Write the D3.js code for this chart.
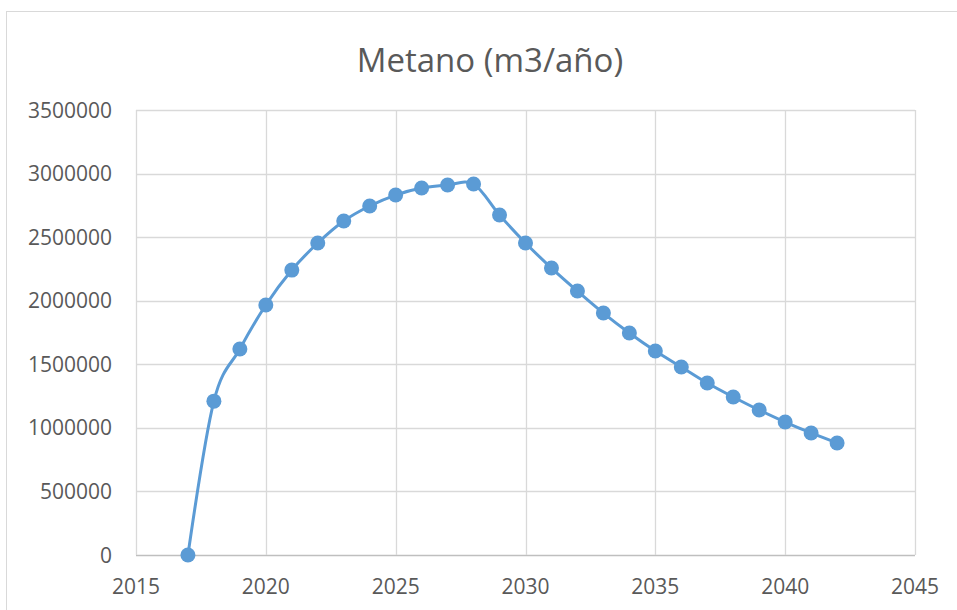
<!DOCTYPE html>
<html><head><meta charset="utf-8">
<script src="https://cdn.jsdelivr.net/npm/d3@7"></script>
<style>body{margin:0;background:#fff}svg{display:block}text{font-family:"Open Sans",sans-serif;fill:#595959}</style>
</head><body><svg id="c" width="957" height="610"></svg>
<script>
const title = "Metano (m3/año)";
const years = [2017,2018,2019,2020,2021,2022,2023,2024,2025,2026,2027,2028,2029,2030,2031,2032,2033,2034,2035,2036,2037,2038,2039,2040,2041,2042];
const values = [0,1210000,1620000,1966000,2241000,2454000,2627000,2745000,2831000,2886000,2910000,2918000,2674000,2454000,2257000,2076000,1903000,1746000,1604000,1479000,1353000,1243000,1140000,1046000,960000,881000];
const xTicks = [2015,2020,2025,2030,2035,2040,2045];
const yTicks = [0,500000,1000000,1500000,2000000,2500000,3000000,3500000];

const svg = d3.select("#c");
const L=136,R=915,T=110,B=555;
svg.append("rect").attr("x",6.5).attr("y",11.5).attr("width",1000).attr("height",1000).attr("fill","none").attr("stroke","#d9d9d9");
const x = d3.scaleLinear().domain([2015,2045]).range([L,R]);
const y = d3.scaleLinear().domain([0,3500000]).range([B,T]);
const g = svg.append("g");
g.selectAll(".hg").data(yTicks).join("line").attr("x1",L).attr("x2",R).attr("y1",d=>Math.round(y(d))+0.5).attr("y2",d=>Math.round(y(d))+0.5).attr("stroke",d=>d===0?"#bfbfbf":"#d9d9d9").attr("stroke-width",1.3);
g.selectAll(".vg").data(xTicks).join("line").attr("y1",T).attr("y2",B).attr("x1",d=>Math.round(x(d))+0.5).attr("x2",d=>Math.round(x(d))+0.5).attr("stroke","#d9d9d9").attr("stroke-width",1.3);
g.selectAll(".yl").data(yTicks).join("text").attr("x",L-24).attr("y",d=>y(d)+7.5).attr("text-anchor","end").attr("font-size",21).text(d=>d);
g.selectAll(".xl").data(xTicks).join("text").attr("x",d=>x(d)).attr("y",594).attr("text-anchor","middle").attr("font-size",21).text(d=>d);
svg.append("text").attr("x",490).attr("y",72).attr("text-anchor","middle").attr("font-size",33).text(title);
const pts = years.map((yr,i)=>[yr,values[i]]);
const line = d3.line().x(d=>x(d[0])).y(d=>y(d[1])).curve(d3.curveCardinal.tension(0));
svg.append("path").attr("d",line(pts)).attr("fill","none").attr("stroke","#5b9bd5").attr("stroke-width",3);
svg.selectAll(".pt").data(pts).join("circle").attr("cx",d=>x(d[0])).attr("cy",d=>y(d[1])).attr("r",7.5).attr("fill","#5b9bd5");
</script></body></html>
